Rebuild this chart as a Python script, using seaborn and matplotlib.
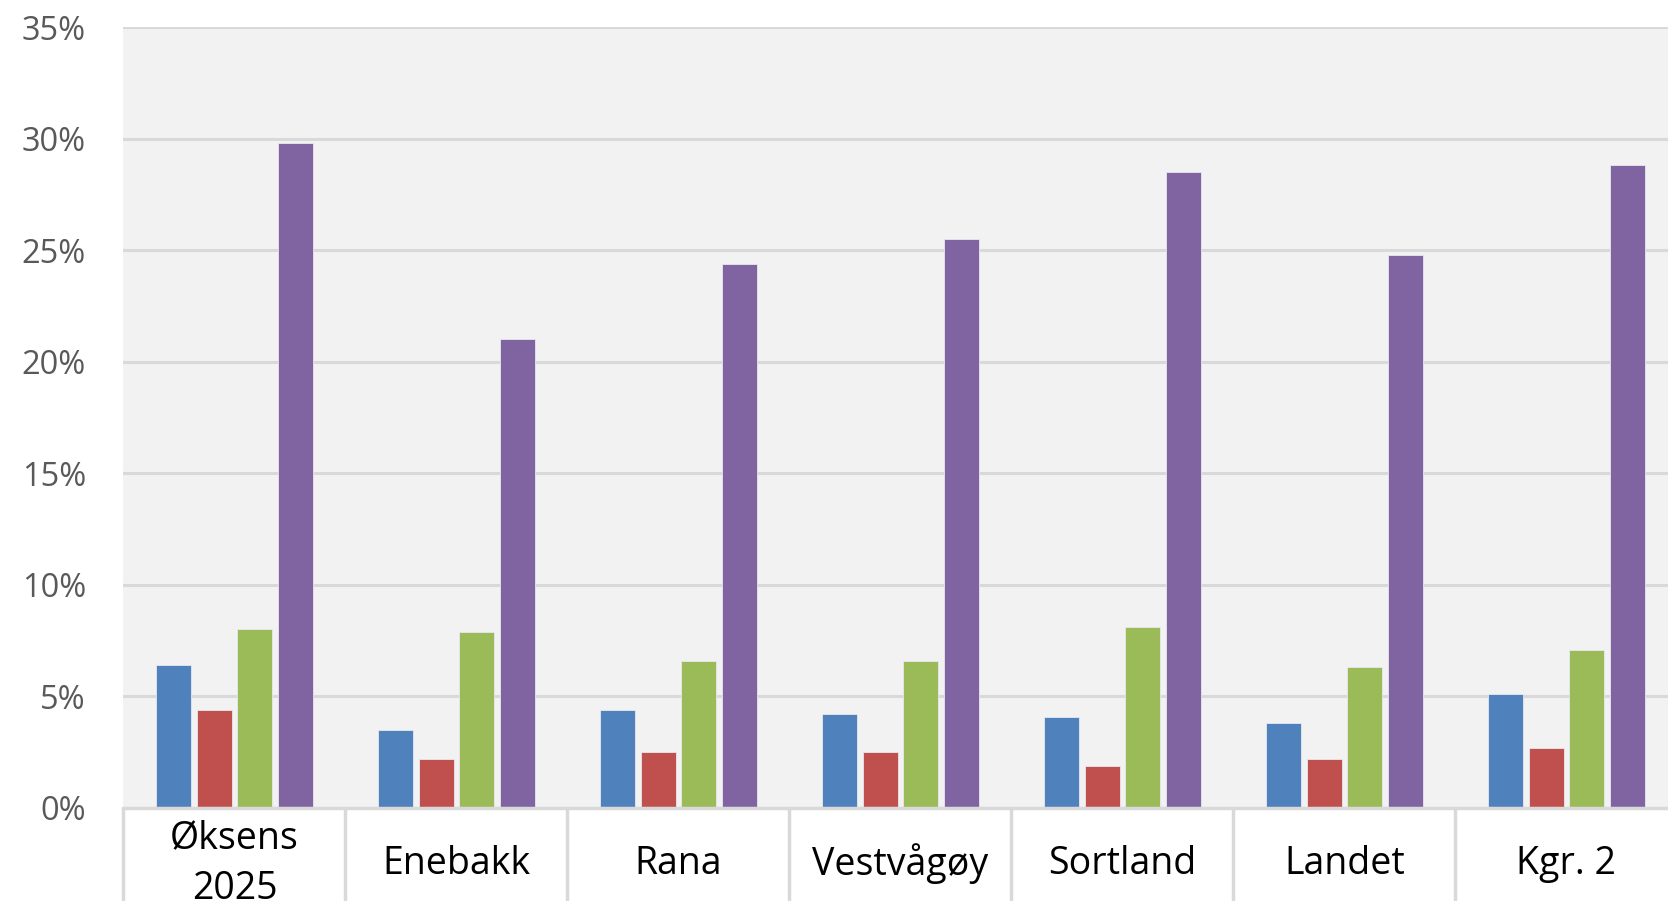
import matplotlib
matplotlib.use("Agg")
import matplotlib.pyplot as plt
import seaborn as sns
import pandas as pd
import numpy as np
from matplotlib.ticker import FixedLocator, FuncFormatter

categories = ["Øksens\n2025", "Enebakk", "Rana", "Vestvågøy", "Sortland", "Landet", "Kgr. 2"]
series_names = ["Serie 1", "Serie 2", "Serie 3", "Serie 4"]
serie1 = [6.4, 3.5, 4.4, 4.2, 4.1, 3.8, 5.1]
serie2 = [4.4, 2.2, 2.5, 2.5, 1.9, 2.2, 2.7]
serie3 = [8.0, 7.9, 6.6, 6.6, 8.1, 6.3, 7.1]
serie4 = [29.8, 21.0, 24.4, 25.5, 28.5, 24.8, 28.8]
colors = ["#4f81bd", "#c0504d", "#9bbb59", "#8064a2"]
ytick_values = [0, 5, 10, 15, 20, 25, 30, 35]

rows = []
for name, vals in zip(series_names, [serie1, serie2, serie3, serie4]):
    for c, v in zip(categories, vals):
        rows.append({"kategori": c, "serie": name, "verdi": v})
df = pd.DataFrame(rows)

sns.set_theme(style="white")
plt.rcParams["font.family"] = ["Open Sans", "DejaVu Sans"]

fig = plt.figure(figsize=(16.68, 9.01), dpi=100)
ax = fig.add_axes([123.4 / 1668, 93 / 901, 1554 / 1668, 781 / 901])
ax.set_facecolor("#f2f2f2")

sns.barplot(data=df, x="kategori", y="verdi", hue="serie", order=categories,
            hue_order=series_names, palette=colors, width=0.73, gap=0.14,
            saturation=1, legend=False, ax=ax, edgecolor="#e8e8f0", linewidth=0.6,
            errorbar=None)

ax.set_ylim(0, 35)
ax.set_xlim(-0.5, 6.5)
ax.yaxis.set_major_locator(FixedLocator(ytick_values))
ax.yaxis.set_major_formatter(FuncFormatter(lambda v, p: f"{int(v)}%"))
ax.grid(axis="y", color="#d9d9d9", linewidth=2.2)
ax.set_axisbelow(True)
for s in ["left", "right", "top"]:
    ax.spines[s].set_visible(False)
ax.spines["bottom"].set_color("#d9d9d9")
ax.spines["bottom"].set_linewidth(2.5)

ax.tick_params(axis="y", length=0, pad=27, labelsize=23.5, labelcolor="#595959")
ax.set_xticks(range(len(categories)))
ax.set_xticklabels(categories, va="center", linespacing=1.45)
ax.tick_params(axis="x", which="major", length=0, pad=40, labelsize=27, labelcolor="#000000")
ax.set_xticks(np.arange(-0.5, len(categories), 1.0), minor=True)
ax.tick_params(axis="x", which="minor", bottom=True, length=80, width=2.5,
               color="#d9d9d9", direction="out")

ax.set_xlabel("")
ax.set_ylabel("")

fig.savefig("out.png", dpi=100, facecolor="white")
